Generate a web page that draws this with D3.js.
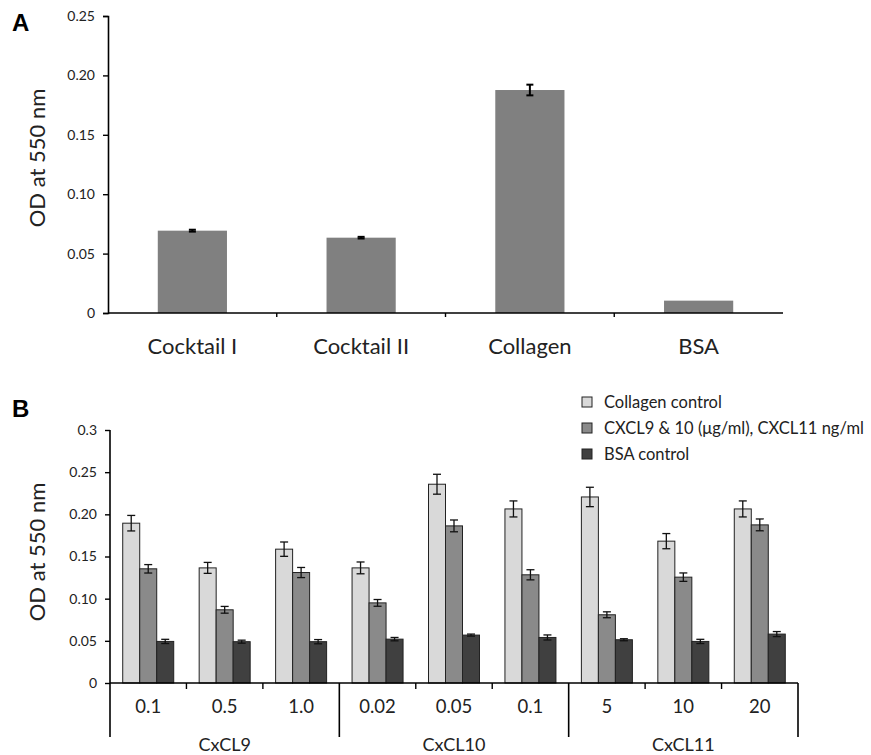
<!DOCTYPE html>
<html>
<head>
<meta charset="utf-8">
<script src="https://cdn.jsdelivr.net/npm/d3@7"></script>
<style>
  body { margin: 0; background: #fff; }
  svg text { font-family: Lato, "Open Sans", sans-serif; fill: #222; }
</style>
</head>
<body>
<div id="chart"></div>
<script>
// panel A data
const aCategories = ["Cocktail I", "Cocktail II", "Collagen", "BSA"];
const aValues = [0.0693, 0.0634, 0.1877, 0.0104];
const aErrors = [0.0008, 0.0007, 0.0045, 0];
const aTicks = [0, 0.05, 0.10, 0.15, 0.20, 0.25];

// panel B data
const bGroups = ["CxCL9", "CxCL10", "CxCL11"];
const bDoses = ["0.1", "0.5", "1.0", "0.02", "0.05", "0.1", "5", "10", "20"];
const bSeries = ["Collagen control", "CXCL9 & 10 (\u03bcg/ml), CXCL11 ng/ml", "BSA control"];
const collagenVals = [0.1895, 0.1365, 0.1587, 0.1365, 0.2357, 0.2064, 0.2206, 0.1682, 0.2064];
const collagenErrs = [0.0092, 0.0065, 0.0085, 0.007, 0.0118, 0.0095, 0.0115, 0.009, 0.0095];
const chemoVals = [0.1354, 0.0868, 0.131, 0.095, 0.1863, 0.1283, 0.0809, 0.1255, 0.1875];
const chemoErrs = [0.005, 0.004, 0.006, 0.004, 0.007, 0.006, 0.0035, 0.005, 0.007];
const bsaVals = [0.0493, 0.049, 0.049, 0.052, 0.0568, 0.054, 0.0513, 0.0493, 0.058];
const bsaErrs = [0.0025, 0.0018, 0.0025, 0.002, 0.0012, 0.003, 0.0012, 0.0025, 0.003];
const bTicks = [0, 0.05, 0.10, 0.15, 0.20, 0.25, 0.3];
const bTickLabels = ["0", "0.05", "0.10", "0.15", "0.20", "0.25", "0.3"];

const seriesColors = ["#d9d9d9", "#8a8a8a", "#404040"];

const svg = d3.select("#chart").append("svg")
  .attr("width", 871)
  .attr("height", 755);

// ---------- Panel A ----------
const ax = d3.scaleBand().domain(aCategories).range([108, 783]).paddingInner(0.59).paddingOuter(0.295);
const ay = d3.scaleLinear().domain([0, 0.25]).range([313, 16]);

svg.append("text")
  .attr("x", 12).attr("y", 31)
  .style("font-family", "Arial, 'Liberation Sans', sans-serif")
  .style("font-weight", "bold").style("font-size", "24px")
  .style("fill", "#000")
  .text("A");

svg.append("text")
  .attr("transform", "translate(45, 158) rotate(-90)")
  .attr("text-anchor", "middle")
  .style("font-size", "22px")
  .text("OD at 550 nm");

svg.append("g").selectAll("rect")
  .data(aCategories)
  .join("rect")
  .attr("x", d => ax(d))
  .attr("y", (d, i) => ay(aValues[i]))
  .attr("width", ax.bandwidth())
  .attr("height", (d, i) => ay(0) - ay(aValues[i]))
  .attr("fill", "#808080");

// error bars A
const aErr = svg.append("g").attr("stroke", "#000").attr("stroke-width", 2);
aCategories.forEach((c, i) => {
  if (!aErrors[i]) return;
  const cx = ax(c) + ax.bandwidth() / 2;
  const y1 = ay(aValues[i] + aErrors[i]), y2 = ay(aValues[i] - aErrors[i]);
  aErr.append("line").attr("x1", cx).attr("x2", cx).attr("y1", y1).attr("y2", y2);
  aErr.append("line").attr("x1", cx - 3.5).attr("x2", cx + 3.5).attr("y1", y1).attr("y2", y1);
  aErr.append("line").attr("x1", cx - 3.5).attr("x2", cx + 3.5).attr("y1", y2).attr("y2", y2);
});

// axes A
const aYAxis = svg.append("g")
  .attr("transform", "translate(108,0)")
  .call(d3.axisLeft(ay).tickValues(aTicks).tickSize(5).tickPadding(8)
    .tickFormat(d => d === 0 ? "0" : d3.format(".2f")(d)));
aYAxis.select(".domain").attr("stroke-width", 1.6);
aYAxis.selectAll("line").attr("stroke-width", 1.4);
aYAxis.selectAll("text").style("font-size", "14px").style("fill", "#222");

svg.append("line")
  .attr("x1", 108).attr("x2", 783).attr("y1", 313).attr("y2", 313)
  .attr("stroke", "#000").attr("stroke-width", 1.6);
svg.append("g").selectAll("line")
  .data(aCategories.slice(1))
  .join("line")
  .attr("x1", d => ax(d) - ax.step() * ax.paddingInner() / 2)
  .attr("x2", d => ax(d) - ax.step() * ax.paddingInner() / 2)
  .attr("y1", 313).attr("y2", 317)
  .attr("stroke", "#000").attr("stroke-width", 1.4);
svg.append("g").selectAll("text")
  .data(aCategories)
  .join("text")
  .attr("x", d => ax(d) + ax.bandwidth() / 2)
  .attr("y", 354)
  .attr("text-anchor", "middle")
  .style("font-size", "22px")
  .text(d => d);

// ---------- Panel B ----------
const bx = d3.scaleBand().domain(d3.range(bDoses.length)).range([110, 798]);
const by = d3.scaleLinear().domain([0, 0.3]).range([683, 430]);
const clusterW = 51, barW = 17;

svg.append("text")
  .attr("x", 12).attr("y", 417)
  .style("font-family", "Arial, 'Liberation Sans', sans-serif")
  .style("font-weight", "bold").style("font-size", "24px")
  .style("fill", "#000")
  .text("B");

svg.append("text")
  .attr("transform", "translate(45, 552) rotate(-90)")
  .attr("text-anchor", "middle")
  .style("font-size", "22px")
  .text("OD at 550 nm");

const bVals = [collagenVals, chemoVals, bsaVals];
const bErrs = [collagenErrs, chemoErrs, bsaErrs];

bSeries.forEach((s, si) => {
  const g = svg.append("g");
  g.selectAll("rect")
    .data(bVals[si])
    .join("rect")
    .attr("x", (d, i) => bx(i) + (bx.bandwidth() - clusterW) / 2 + si * barW)
    .attr("y", d => by(d))
    .attr("width", barW)
    .attr("height", d => by(0) - by(d))
    .attr("fill", seriesColors[si])
    .attr("stroke", "#222")
    .attr("stroke-width", 1);
  const eg = svg.append("g").attr("stroke", "#111").attr("stroke-width", 1.3);
  bVals[si].forEach((v, i) => {
    const cx = bx(i) + (bx.bandwidth() - clusterW) / 2 + si * barW + barW / 2;
    const y1 = by(v + bErrs[si][i]), y2 = by(v - bErrs[si][i]);
    eg.append("line").attr("x1", cx).attr("x2", cx).attr("y1", y1).attr("y2", y2);
    eg.append("line").attr("x1", cx - 4).attr("x2", cx + 4).attr("y1", y1).attr("y2", y1);
    eg.append("line").attr("x1", cx - 4).attr("x2", cx + 4).attr("y1", y2).attr("y2", y2);
  });
});

// axes B
const bYAxis = svg.append("g")
  .attr("transform", "translate(110,0)")
  .call(d3.axisLeft(by).tickValues(bTicks).tickSize(5).tickPadding(8)
    .tickFormat((d, i) => bTickLabels[i]));
bYAxis.select(".domain").remove();
bYAxis.selectAll("line").attr("stroke-width", 1.4);
bYAxis.selectAll("text").style("font-size", "14px").style("fill", "#222");

svg.append("line")
  .attr("x1", 110).attr("x2", 110).attr("y1", 430).attr("y2", 737)
  .attr("stroke", "#000").attr("stroke-width", 1.6);
svg.append("line")
  .attr("x1", 110).attr("x2", 798).attr("y1", 683).attr("y2", 683)
  .attr("stroke", "#000").attr("stroke-width", 1.6);

// small ticks within groups, long separators between groups
const bounds = d3.range(1, bDoses.length + 1);
svg.append("g").selectAll("line")
  .data(bounds)
  .join("line")
  .attr("x1", d => bx.range()[0] + d * bx.step())
  .attr("x2", d => bx.range()[0] + d * bx.step())
  .attr("y1", 683)
  .attr("y2", d => d % 3 === 0 ? 737 : 689)
  .attr("stroke", "#000")
  .attr("stroke-width", d => d % 3 === 0 ? 1.6 : 1.4);

svg.append("g").selectAll("text")
  .data(bDoses)
  .join("text")
  .attr("x", (d, i) => bx(i) + bx.bandwidth() / 2)
  .attr("y", 713)
  .attr("text-anchor", "middle")
  .style("font-size", "18.5px")
  .text(d => d);

svg.append("g").selectAll("text")
  .data(bGroups)
  .join("text")
  .attr("x", (d, i) => bx(i * 3) + bx.step() * 1.5)
  .attr("y", 751)
  .attr("text-anchor", "middle")
  .style("font-size", "18px")
  .text(d => d);

// legend
const legend = svg.append("g").attr("transform", "translate(582, 402)");
bSeries.forEach((s, i) => {
  const row = legend.append("g").attr("transform", `translate(0, ${i * 26})`);
  row.append("rect")
    .attr("x", 0).attr("y", -5)
    .attr("width", 10).attr("height", 10)
    .attr("fill", seriesColors[i])
    .attr("stroke", "#222").attr("stroke-width", 1);
  row.append("text")
    .attr("x", 22).attr("y", 5.5)
    .style("font-size", "16.5px")
    .text(s);
});
</script>
</body>
</html>
